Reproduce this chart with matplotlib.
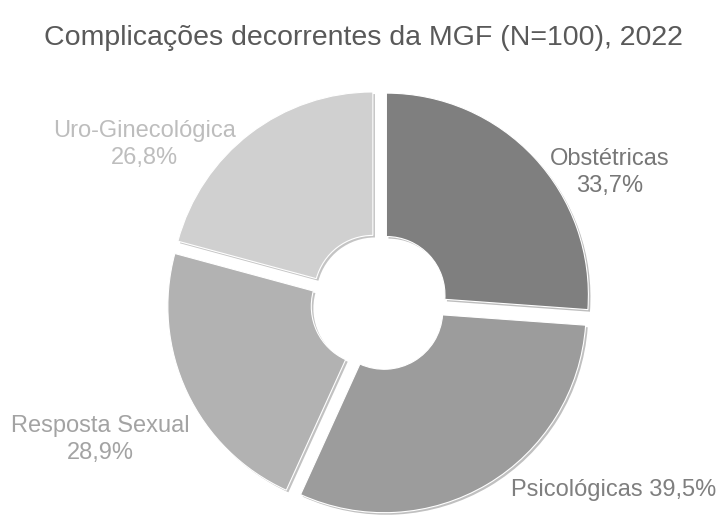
import matplotlib.pyplot as plt
import matplotlib.patheffects as pe

# data
categories = ['Obstétricas', 'Psicológicas', 'Resposta Sexual', 'Uro-Ginecológica']
values = [33.7, 39.5, 28.9, 26.8]
label_text = ['Obstétricas\n33,7%', 'Psicológicas 39,5%', 'Resposta Sexual\n28,9%', 'Uro-Ginecológica\n26,8%']

colors = ['#7f7f7f', '#9c9c9c', '#b2b2b2', '#d0d0d0']
label_colors = ['#777777', '#7f7f7f', '#a3a3a3', '#bdbdbd']
# label positions in axes data units (radius = 1)
label_xy = [(1.14, 0.64), (1.16, -0.93), (-1.38, -0.68), (-1.16, 0.78)]

plt.rcParams['font.family'] = ['Liberation Sans', 'DejaVu Sans']

W, H, R = 725, 516, 202
cx, cy = 379, 302

fig = plt.figure(figsize=(7.25, 5.16), dpi=100)
ax = fig.add_axes([0, 0, 1, 1])

wedges, _ = ax.pie(values, colors=colors, startangle=90, counterclock=False,
                   radius=1, explode=[0.05] * len(values),
                   wedgeprops=dict(width=0.71, edgecolor='white', linewidth=0.8))
for w in wedges:
    w.set_path_effects([pe.SimplePatchShadow(offset=(1.5, -1.5), alpha=0.3), pe.Normal()])

# pie resets the limits, so set them afterwards (1 unit = R pixels)
ax.set_xlim(-cx / R, (W - cx) / R)
ax.set_ylim(-(H - cy) / R, cy / R)
ax.set_aspect('equal')
ax.axis('off')

for txt, (x, y), c in zip(label_text, label_xy, label_colors):
    ax.text(x, y, txt, ha='center', va='center', fontsize=17, color=c, linespacing=1.3)

fig.text(0.501, 0.926, 'Complicações decorrentes da MGF (N=100), 2022',
         ha='center', va='center', fontsize=20.5, color='#595959')

fig.savefig('out.png', dpi=100)
